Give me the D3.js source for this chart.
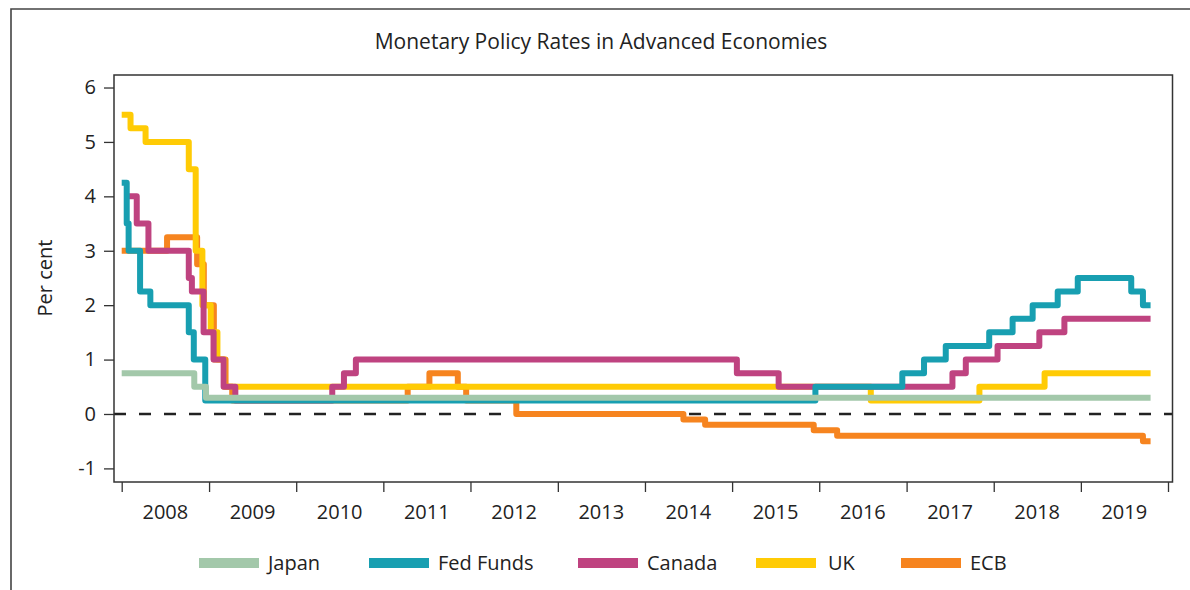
<!DOCTYPE html>
<html>
<head>
<meta charset="utf-8">
<script src="https://cdn.jsdelivr.net/npm/d3@7"></script>
<style>
  body { margin: 0; background: #fff; }
  text { font-family: "Open Sans", sans-serif; fill: #222; }
</style>
</head>
<body>
<div class="container"></div>
<script>
// policy rate change dates and levels, per cent
const japanDates = ["2008-01-01", "2008-10-31", "2008-12-19"];
const japanRates = [0.75, 0.5, 0.3];

const fedDates = ["2008-01-01", "2008-01-22", "2008-01-30", "2008-03-18", "2008-04-30", "2008-10-08",
  "2008-10-29", "2008-12-16", "2015-12-16", "2016-12-14", "2017-03-15", "2017-06-14", "2017-12-13",
  "2018-03-21", "2018-06-13", "2018-09-26", "2018-12-19", "2019-07-31", "2019-09-18"];
const fedRates = [4.25, 3.5, 3.0, 2.25, 2.0, 1.5, 1.0, 0.25, 0.5, 0.75, 1.0, 1.25, 1.5, 1.75, 2.0, 2.25, 2.5, 2.25, 2.0];

const canadaDates = ["2008-01-30", "2008-03-04", "2008-04-22", "2008-10-08", "2008-10-21", "2008-12-09",
  "2009-01-20", "2009-03-03", "2009-04-21", "2010-06-01", "2010-07-20", "2010-09-08", "2015-01-21",
  "2015-07-15", "2017-07-12", "2017-09-06", "2018-01-17", "2018-07-11", "2018-10-24"];
const canadaRates = [4.0, 3.5, 3.0, 2.5, 2.25, 1.5, 1.0, 0.5, 0.25, 0.5, 0.75, 1.0, 0.75, 0.5, 0.75, 1.0, 1.25, 1.5, 1.75];

const ukDates = ["2008-01-01", "2008-02-07", "2008-04-10", "2008-10-08", "2008-11-06", "2008-12-04",
  "2009-01-08", "2009-02-05", "2009-03-05", "2016-08-04", "2017-11-02", "2018-08-02"];
const ukRates = [5.5, 5.25, 5.0, 4.5, 3.0, 2.0, 1.5, 1.0, 0.5, 0.25, 0.5, 0.75];

const ecbDates = ["2008-01-01", "2008-07-09", "2008-11-12", "2008-12-10", "2009-01-21", "2009-03-11",
  "2009-04-08", "2011-04-13", "2011-07-13", "2011-11-09", "2011-12-14", "2012-07-11", "2014-06-11",
  "2014-09-10", "2015-12-09", "2016-03-16", "2019-09-18"];
const ecbRates = [3.0, 3.25, 2.75, 2.0, 1.0, 0.5, 0.25, 0.5, 0.75, 0.5, 0.25, 0.0, -0.1, -0.2, -0.3, -0.4, -0.5];

const endDate = "2019-10-20";
const seriesNames = ["Japan", "Fed Funds", "Canada", "UK", "ECB"];
const seriesColors = ["#a3c8aa", "#189fb1", "#bf4380", "#ffcb05", "#f6841f"];
const yTicks = [-1, 0, 1, 2, 3, 4, 5, 6];
const years = [2008, 2009, 2010, 2011, 2012, 2013, 2014, 2015, 2016, 2017, 2018, 2019];

const W = 1190, H = 590;
const plotLeft = 114, plotRight = 1172.5, plotTop = 75, plotBottom = 482;
const parse = d3.timeParse("%Y-%m-%d");

const svg = d3.select(".container").append("svg").attr("width", W).attr("height", H);

const x = d3.scaleTime().domain([new Date(2008, 0, 1), new Date(2020, 0, 1)]).range([121.7, 1168]);
const y = d3.scaleLinear().domain([-1.25, 6.23]).range([plotBottom, plotTop]);

// outer frame (only top and left edges are in view)
svg.append("path").attr("d", `M11,${H} V9 H${W}`).attr("fill", "none").attr("stroke", "#444").attr("stroke-width", 1.6);

svg.append("text").attr("x", 601).attr("y", 49).attr("text-anchor", "middle")
  .style("font-size", "21px").text("Monetary Policy Rates in Advanced Economies");

// zero line
svg.append("line").attr("x1", plotLeft).attr("x2", plotRight).attr("y1", y(0)).attr("y2", y(0))
  .attr("stroke", "#222").attr("stroke-width", 2.6).attr("stroke-dasharray", "12,13");

const makeSeries = (dates, rates) => {
  const pts = dates.map((d, i) => ({ date: parse(d), v: rates[i] }));
  pts.push({ date: parse(endDate), v: rates[rates.length - 1] });
  return pts;
};
const series = [
  makeSeries(japanDates, japanRates),
  makeSeries(fedDates, fedRates),
  makeSeries(canadaDates, canadaRates),
  makeSeries(ukDates, ukRates),
  makeSeries(ecbDates, ecbRates),
];

const line = d3.line().x(d => x(d.date)).y(d => y(d.v)).curve(d3.curveStepAfter);

// ECB at the bottom, Japan on top
const order = [4, 3, 2, 1, 0];
svg.append("g").selectAll("path")
  .data(order)
  .join("path")
  .attr("d", i => line(series[i]))
  .attr("fill", "none")
  .attr("stroke", i => seriesColors[i])
  .attr("stroke-width", 6)
  .attr("stroke-linejoin", "round");

// plot frame
svg.append("rect").attr("x", plotLeft).attr("y", plotTop).attr("width", plotRight - plotLeft).attr("height", plotBottom - plotTop)
  .attr("fill", "none").attr("stroke", "#333").attr("stroke-width", 1.5);

// y axis
const yAxis = svg.append("g").attr("transform", `translate(${plotLeft},0)`)
  .call(d3.axisLeft(y).tickValues(yTicks).tickSize(10).tickPadding(8).tickFormat(d => String(d)));
yAxis.select(".domain").remove();
yAxis.selectAll("line").attr("stroke", "#333").attr("stroke-width", 1.3);
yAxis.selectAll("text").style("font-size", "20px").style("font-family", "Open Sans").attr("fill", "#222");

// x axis: ticks at year boundaries, labels mid-year
const yearStarts = years.concat([2020]).map(yr => new Date(yr, 0, 1));
const xAxis = svg.append("g").attr("transform", `translate(0,${plotBottom})`)
  .call(d3.axisBottom(x).tickValues(yearStarts).tickSize(10).tickFormat(""));
xAxis.select(".domain").remove();
xAxis.selectAll("line").attr("stroke", "#333").attr("stroke-width", 1.3);

svg.append("g").selectAll("text")
  .data(years)
  .join("text")
  .attr("x", d => x(new Date(d, 6, 2)))
  .attr("y", 519)
  .attr("text-anchor", "middle")
  .style("font-size", "20px")
  .text(d => d);

svg.append("text").attr("transform", "translate(52,278) rotate(-90)")
  .attr("text-anchor", "middle").style("font-size", "20px").text("Per cent");

// legend
const legendX = [199, 369, 578, 756, 901];
const leg = svg.append("g").selectAll("g")
  .data(seriesNames)
  .join("g")
  .attr("transform", (d, i) => `translate(${legendX[i]},563)`);
leg.append("rect").attr("x", 0).attr("y", -5).attr("width", 60).attr("height", 10)
  .attr("fill", (d, i) => seriesColors[i]);
leg.append("text").attr("x", (d, i) => (i === 3 ? 72 : 69)).attr("y", 7).style("font-size", "20px").text(d => d);
</script>
</body>
</html>
